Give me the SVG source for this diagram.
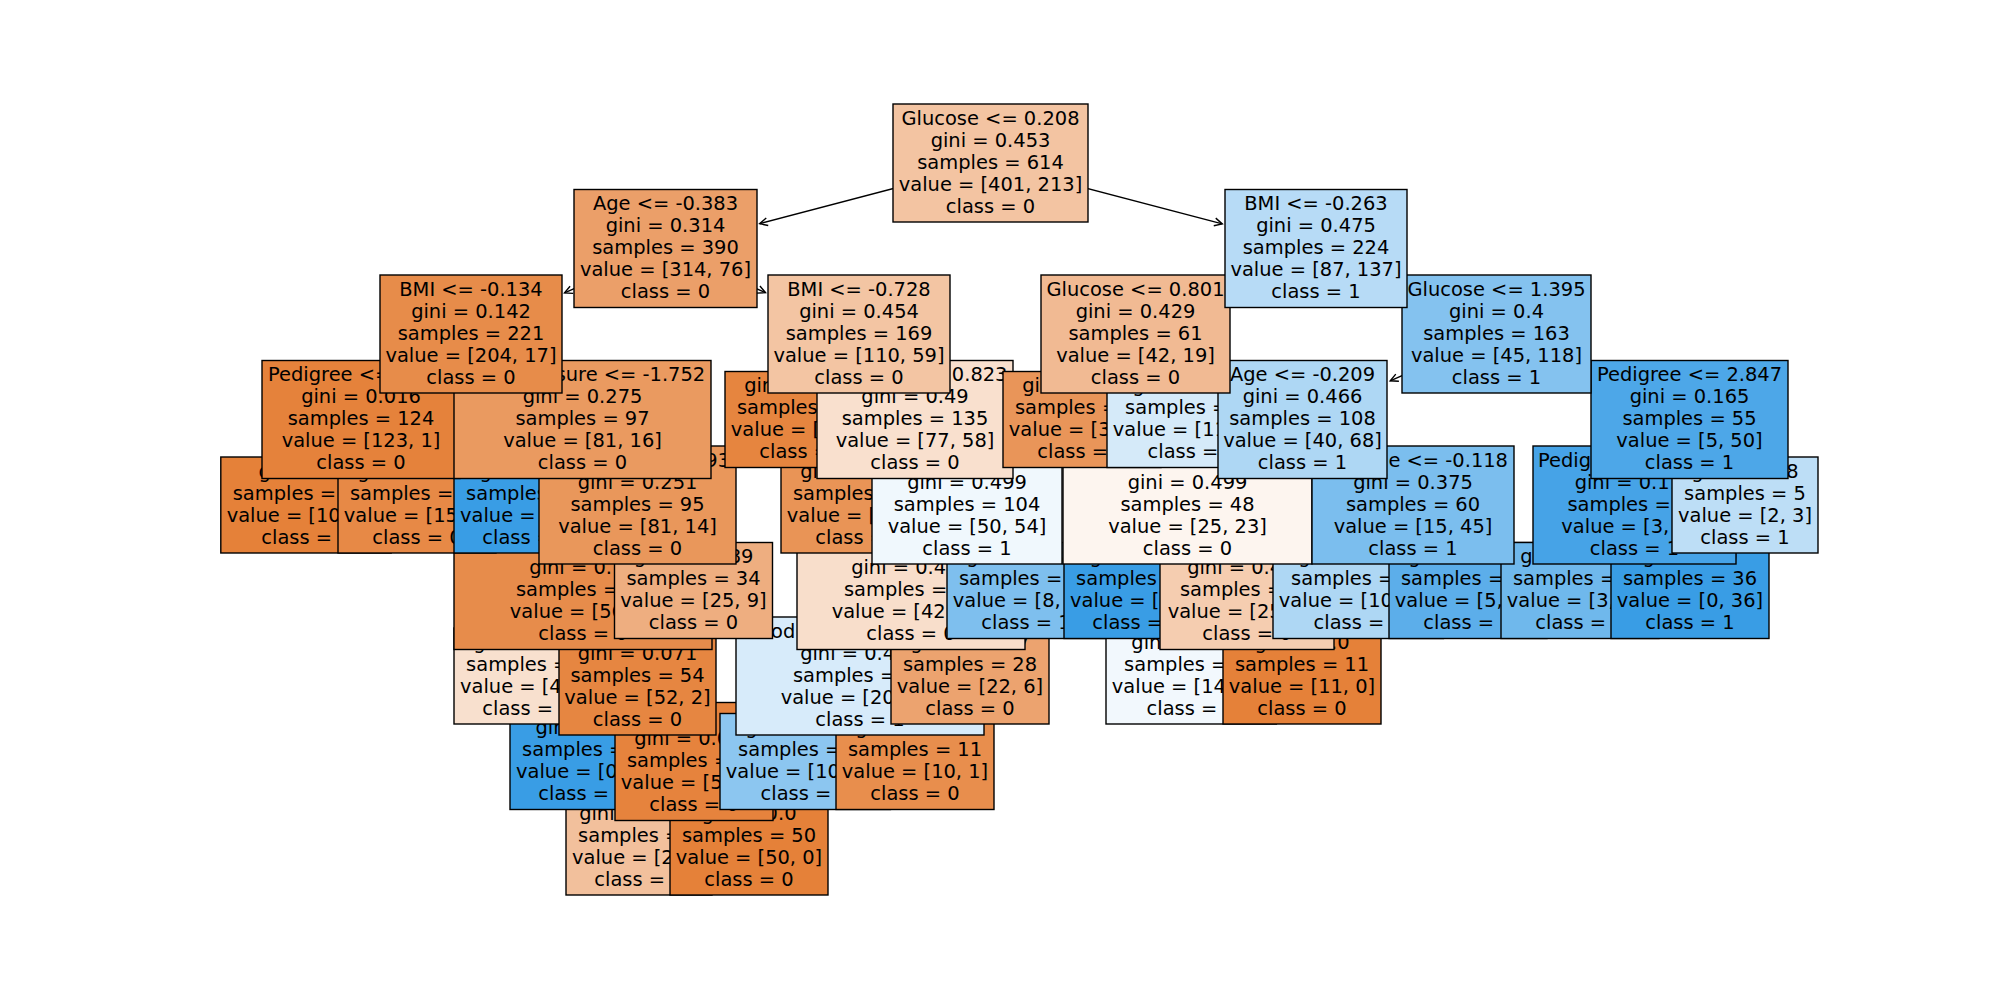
<svg xmlns="http://www.w3.org/2000/svg" width="2000" height="1000" viewBox="0 0 2000 1000">
<defs>
<style>
.node rect{stroke:#000;stroke-width:1.4}
.node text{font-family:"DejaVu Sans","Liberation Sans",sans-serif;font-size:19.44px;fill:#000;text-anchor:middle}
.node text .s{text-anchor:start}
.node text .e{text-anchor:end}
.edge line{stroke:#000;stroke-width:1.4;fill:none;marker-end:url(#head)}
</style>
<marker id="head" viewBox="-10 -6 12 12" markerWidth="12" markerHeight="12" refX="0" refY="0" orient="auto" markerUnits="userSpaceOnUse" overflow="visible">
<path d="M-7.8,-3.9 L0,0 L-7.8,3.9" fill="none" stroke="#000" stroke-width="1.4"/>
</marker>
</defs>
<rect width="2000" height="1000" fill="#fff"/>

<!-- connectors: parent centre to child box edge -->
<g id="edges" class="edge">
<line x1="990.5" y1="163" x2="759.7" y2="223.7"/>
<line x1="990.5" y1="163" x2="1222.3" y2="223.9"/>
<line x1="665.5" y1="248.5" x2="564.5" y2="292.9"/>
<line x1="665.5" y1="248.5" x2="765.5" y2="292.7"/>
<line x1="471" y1="334" x2="439.1" y2="358.8"/>
<line x1="471" y1="334" x2="503.4" y2="358.8"/>
<line x1="361" y1="419.5" x2="338.4" y2="454.7"/>
<line x1="361" y1="419.5" x2="384.1" y2="454.7"/>
<line x1="582.5" y1="419.5" x2="559.7" y2="454.7"/>
<line x1="582.5" y1="419.5" x2="598" y2="443.7"/>
<line x1="637.5" y1="505" x2="622.1" y2="529.2"/>
<line x1="637.5" y1="505" x2="660.6" y2="540.2"/>
<line x1="583" y1="590.5" x2="559.9" y2="625.7"/>
<line x1="583" y1="590.5" x2="598.4" y2="614.7"/>
<line x1="637.5" y1="676" x2="615.1" y2="711.2"/>
<line x1="637.5" y1="676" x2="653.5" y2="700.2"/>
<line x1="694" y1="761.5" x2="671.4" y2="796.7"/>
<line x1="694" y1="761.5" x2="716.6" y2="796.7"/>
<line x1="859" y1="334" x2="836.4" y2="369.2"/>
<line x1="859" y1="334" x2="874.9" y2="358.2"/>
<line x1="915" y1="419.5" x2="892.4" y2="454.7"/>
<line x1="915" y1="419.5" x2="929.7" y2="443.6"/>
<line x1="967" y1="505" x2="951.1" y2="529.2"/>
<line x1="967" y1="505" x2="991.3" y2="540.2"/>
<line x1="911" y1="590.5" x2="896.6" y2="614.6"/>
<line x1="911" y1="590.5" x2="935.3" y2="625.7"/>
<line x1="860" y1="676" x2="837.4" y2="711.2"/>
<line x1="860" y1="676" x2="882.6" y2="711.2"/>
<line x1="1316" y1="248.5" x2="1232.5" y2="288"/>
<line x1="1316" y1="248.5" x2="1399.5" y2="288"/>
<line x1="1135.5" y1="334" x2="1113.5" y2="369.1"/>
<line x1="1135.5" y1="334" x2="1158.8" y2="369.2"/>
<line x1="1496.5" y1="334" x2="1390.2" y2="380.8"/>
<line x1="1496.5" y1="334" x2="1588" y2="374.5"/>
<line x1="1302.5" y1="419.5" x2="1269.1" y2="444.3"/>
<line x1="1302.5" y1="419.5" x2="1334.6" y2="444.3"/>
<line x1="1187.5" y1="505" x2="1166.8" y2="540.1"/>
<line x1="1187.5" y1="505" x2="1204.3" y2="529.2"/>
<line x1="1247" y1="590.5" x2="1223.9" y2="625.7"/>
<line x1="1247" y1="590.5" x2="1269.6" y2="625.7"/>
<line x1="1413" y1="505" x2="1390.4" y2="540.2"/>
<line x1="1413" y1="505" x2="1435.6" y2="540.2"/>
<line x1="1689.5" y1="419.5" x2="1674" y2="443.7"/>
<line x1="1689.5" y1="419.5" x2="1712.3" y2="454.7"/>
<line x1="1634.5" y1="505" x2="1612.1" y2="540.2"/>
<line x1="1634.5" y1="505" x2="1657.3" y2="540.2"/>
</g>

<!-- depth 8 -->
<g id="n14" class="node"><rect x="566" y="799" width="146" height="96" fill="#f2c09c"/><text><tspan x="639" y="819.8">gini = 0.444</tspan><tspan x="639" y="841.8">samples = 3</tspan><tspan x="639" y="863.8">value = [2, 1]</tspan><tspan x="639" y="885.8">class = 0</tspan></text></g>
<g id="n15" class="node"><rect x="670" y="799" width="158" height="96" fill="#e58139"/><text><tspan x="749" y="819.8">gini = 0.0</tspan><tspan x="749" y="841.8">samples = 50</tspan><tspan x="749" y="863.8">value = [50, 0]</tspan><tspan x="749" y="885.8">class = 0</tspan></text></g>

<!-- depth 7 -->
<g id="n12" class="node"><rect x="510" y="713.5" width="146" height="96" fill="#399de5"/><text><tspan x="583" y="734.3">gini = 0.0</tspan><tspan x="583" y="756.3">samples = 1</tspan><tspan x="583" y="778.3">value = [0, 1]</tspan><tspan x="583" y="800.3">class = 1</tspan></text></g>
<g id="n13" class="node"><rect x="615" y="702.5" width="158" height="118" fill="#e6833d"/><text><tspan x="694" y="745.3">gini = 0.037</tspan><tspan x="694" y="767.3">samples = 53</tspan><tspan x="694" y="789.3">value = [52, 1]</tspan><tspan x="694" y="811.3">class = 0</tspan></text></g>
<g id="n24" class="node"><rect x="720" y="713.5" width="170.4" height="96" fill="#8cc6f0"/><text><tspan x="805.2" y="734.3">gini = 0.415</tspan><tspan x="805.2" y="756.3">samples = 34</tspan><tspan x="805.2" y="778.3">value = [10, 24]</tspan><tspan x="805.2" y="800.3">class = 1</tspan></text></g>
<g id="n25" class="node"><rect x="836" y="713.5" width="158" height="96" fill="#e88e4d"/><text><tspan x="915" y="734.3">gini = 0.165</tspan><tspan x="915" y="756.3">samples = 11</tspan><tspan x="915" y="778.3">value = [10, 1]</tspan><tspan x="915" y="800.3">class = 0</tspan></text></g>

<!-- depth 6 -->
<g id="n10" class="node"><rect x="454" y="628" width="146" height="96" fill="#f8e0ce"/><text><tspan x="527" y="648.8">gini = 0.49</tspan><tspan x="527" y="670.8">samples = 7</tspan><tspan x="527" y="692.8">value = [4, 3]</tspan><tspan x="527" y="714.8">class = 0</tspan></text></g>
<g id="n11" class="node"><rect x="559" y="617" width="157" height="118" fill="#e68641"/><text><tspan x="637.5" y="659.8">gini = 0.071</tspan><tspan x="637.5" y="681.8">samples = 54</tspan><tspan x="637.5" y="703.8">value = [52, 2]</tspan><tspan x="637.5" y="725.8">class = 0</tspan></text></g>
<g id="n23" class="node"><rect x="736" y="617" width="248" height="118" fill="#d7ebfa"/><text><tspan class="s" x="771" y="637.8">od</tspan><tspan x="860" y="659.8">gini = 0.494</tspan><tspan x="860" y="681.8">samples = 45</tspan><tspan x="860" y="703.8">value = [20, 25]</tspan><tspan x="860" y="725.8">class = 1</tspan></text></g>
<g id="n26" class="node"><rect x="891" y="628" width="158" height="96" fill="#eca36f"/><text><tspan x="970" y="648.8">gini = 0.337</tspan><tspan x="970" y="670.8">samples = 28</tspan><tspan x="970" y="692.8">value = [22, 6]</tspan><tspan x="970" y="714.8">class = 0</tspan></text></g>
<g id="n37" class="node"><rect x="1106" y="628" width="170.4" height="96" fill="#f2f8fd"/><text><tspan x="1191.2" y="648.8">gini = 0.499</tspan><tspan x="1191.2" y="670.8">samples = 29</tspan><tspan x="1191.2" y="692.8">value = [14, 15]</tspan><tspan x="1191.2" y="714.8">class = 1</tspan></text></g>
<g id="n38" class="node"><rect x="1223" y="628" width="158" height="96" fill="#e58139"/><text><tspan x="1302" y="648.8">gini = 0.0</tspan><tspan x="1302" y="670.8">samples = 11</tspan><tspan x="1302" y="692.8">value = [11, 0]</tspan><tspan x="1302" y="714.8">class = 0</tspan></text></g>

<!-- depth 5 -->
<g id="n9" class="node"><rect x="454" y="531.5" width="258" height="118" fill="#e78c4b"/><text><tspan x="583" y="574.3">gini = 0.15</tspan><tspan x="583" y="596.3">samples = 61</tspan><tspan x="583" y="618.3">value = [56, 5]</tspan><tspan x="583" y="640.3">class = 0</tspan></text></g>
<g id="n16" class="node"><rect x="614.5" y="542.5" width="158" height="96" fill="#eeae80"/><text><tspan x="693.5" y="563.3">gini = 0.389</tspan><tspan x="693.5" y="585.3">samples = 34</tspan><tspan x="693.5" y="607.3">value = [25, 9]</tspan><tspan x="693.5" y="629.3">class = 0</tspan></text></g>
<g id="n22" class="node"><rect x="797" y="531.5" width="228" height="118" fill="#f8decb"/><text><tspan x="911" y="574.3">gini = 0.489</tspan><tspan x="911" y="596.3">samples = 73</tspan><tspan x="911" y="618.3">value = [42, 31]</tspan><tspan x="911" y="640.3">class = 0</tspan></text></g>
<g id="n27" class="node"><rect x="947" y="542.5" width="158" height="96" fill="#7ebfee"/><text><tspan x="1026" y="563.3">gini = 0.383</tspan><tspan x="1026" y="585.3">samples = 31</tspan><tspan x="1026" y="607.3">value = [8, 23]</tspan><tspan x="1026" y="629.3">class = 1</tspan></text></g>
<g id="n35" class="node"><rect x="1064" y="542.5" width="146" height="96" fill="#399de5"/><text><tspan x="1137" y="563.3">gini = 0.0</tspan><tspan x="1137" y="585.3">samples = 8</tspan><tspan x="1137" y="607.3">value = [0, 8]</tspan><tspan x="1137" y="629.3">class = 1</tspan></text></g>
<g id="n36" class="node"><rect x="1160" y="531.5" width="174" height="118" fill="#f5cdb0"/><text><tspan x="1247" y="574.3">gini = 0.469</tspan><tspan x="1247" y="596.3">samples = 40</tspan><tspan x="1247" y="618.3">value = [25, 15]</tspan><tspan x="1247" y="640.3">class = 0</tspan></text></g>
<g id="n40" class="node"><rect x="1273" y="542.5" width="170.4" height="96" fill="#aed7f4"/><text><tspan x="1358.2" y="563.3">gini = 0.466</tspan><tspan x="1358.2" y="585.3">samples = 27</tspan><tspan x="1358.2" y="607.3">value = [10, 17]</tspan><tspan x="1358.2" y="629.3">class = 1</tspan></text></g>
<g id="n41" class="node"><rect x="1389" y="542.5" width="158" height="96" fill="#5caeea"/><text><tspan x="1468" y="563.3">gini = 0.257</tspan><tspan x="1468" y="585.3">samples = 33</tspan><tspan x="1468" y="607.3">value = [5, 28]</tspan><tspan x="1468" y="629.3">class = 1</tspan></text></g>
<g id="n44" class="node"><rect x="1501" y="542.5" width="158" height="96" fill="#6fb8ec"/><text><tspan x="1580" y="563.3">gini = 0.337</tspan><tspan x="1580" y="585.3">samples = 14</tspan><tspan x="1580" y="607.3">value = [3, 11]</tspan><tspan x="1580" y="629.3">class = 1</tspan></text></g>
<g id="n45" class="node"><rect x="1611" y="542.5" width="158" height="96" fill="#399de5"/><text><tspan x="1690" y="563.3">gini = 0.0</tspan><tspan x="1690" y="585.3">samples = 36</tspan><tspan x="1690" y="607.3">value = [0, 36]</tspan><tspan x="1690" y="629.3">class = 1</tspan></text></g>

<!-- depth 4 -->
<g id="n4" class="node"><rect x="220.8" y="457" width="170.4" height="96" fill="#e58139"/><text><tspan x="306" y="477.8">gini = 0.0</tspan><tspan x="306" y="499.8">samples = 108</tspan><tspan x="306" y="521.8">value = [108, 0]</tspan><tspan x="306" y="543.8">class = 0</tspan></text></g>
<g id="n5" class="node"><rect x="338" y="457" width="158" height="96" fill="#e78946"/><text><tspan x="417" y="477.8">gini = 0.117</tspan><tspan x="417" y="499.8">samples = 16</tspan><tspan x="417" y="521.8">value = [15, 1]</tspan><tspan x="417" y="543.8">class = 0</tspan></text></g>
<g id="n7" class="node"><rect x="454" y="457" width="146" height="96" fill="#399de5"/><text><tspan x="527" y="477.8">gini = 0.0</tspan><tspan x="527" y="499.8">samples = 2</tspan><tspan x="527" y="521.8">value = [0, 2]</tspan><tspan x="527" y="543.8">class = 1</tspan></text></g>
<g id="n8" class="node"><rect x="539" y="446" width="197" height="118" fill="#e9975b"/><text><tspan class="e" x="730" y="466.8">93</tspan><tspan x="637.5" y="488.8">gini = 0.251</tspan><tspan x="637.5" y="510.8">samples = 95</tspan><tspan x="637.5" y="532.8">value = [81, 14]</tspan><tspan x="637.5" y="554.8">class = 0</tspan></text></g>
<g id="n20" class="node"><rect x="781" y="457" width="158" height="96" fill="#e99456"/><text><tspan x="860" y="477.8">gini = 0.225</tspan><tspan x="860" y="499.8">samples = 31</tspan><tspan x="860" y="521.8">value = [27, 4]</tspan><tspan x="860" y="543.8">class = 0</tspan></text></g>
<g id="n21" class="node"><rect x="872" y="446" width="190" height="118" fill="#f0f8fd"/><text><tspan x="967" y="488.8">gini = 0.499</tspan><tspan x="967" y="510.8">samples = 104</tspan><tspan x="967" y="532.8">value = [50, 54]</tspan><tspan x="967" y="554.8">class = 1</tspan></text></g>
<g id="n34" class="node"><rect x="1063" y="446" width="249" height="118" fill="#fdf5ef"/><text><tspan x="1187.5" y="488.8">gini = 0.499</tspan><tspan x="1187.5" y="510.8">samples = 48</tspan><tspan x="1187.5" y="532.8">value = [25, 23]</tspan><tspan x="1187.5" y="554.8">class = 0</tspan></text></g>
<g id="n39" class="node"><rect x="1312" y="446" width="202" height="118" fill="#7bbeee"/><text><tspan class="e" x="1508" y="466.8">e &lt;= -0.118</tspan><tspan x="1413" y="488.8">gini = 0.375</tspan><tspan x="1413" y="510.8">samples = 60</tspan><tspan x="1413" y="532.8">value = [15, 45]</tspan><tspan x="1413" y="554.8">class = 1</tspan></text></g>
<g id="n43" class="node"><rect x="1533" y="446" width="203" height="118" fill="#46a3e7"/><text><tspan class="s" x="1538" y="466.8">Pedig</tspan><tspan x="1634.5" y="488.8">gini = 0.113</tspan><tspan x="1634.5" y="510.8">samples = 50</tspan><tspan x="1634.5" y="532.8">value = [3, 47]</tspan><tspan x="1634.5" y="554.8">class = 1</tspan></text></g>
<g id="n46" class="node"><rect x="1672" y="457" width="146" height="96" fill="#bddef6"/><text><tspan x="1745" y="477.8">gini = 0.48</tspan><tspan x="1745" y="499.8">samples = 5</tspan><tspan x="1745" y="521.8">value = [2, 3]</tspan><tspan x="1745" y="543.8">class = 1</tspan></text></g>

<!-- depth 3 -->
<g id="n3" class="node"><rect x="262" y="360.5" width="198" height="118" fill="#e5823b"/><text><tspan class="s" x="268" y="381.3">Pedigree &lt;=</tspan><tspan x="361" y="403.3">gini = 0.016</tspan><tspan x="361" y="425.3">samples = 124</tspan><tspan x="361" y="447.3">value = [123, 1]</tspan><tspan x="361" y="469.3">class = 0</tspan></text></g>
<g id="n6" class="node"><rect x="454" y="360.5" width="257" height="118" fill="#ea9a60"/><text><tspan x="582.5" y="381.3">BloodPressure &lt;= -1.752</tspan><tspan x="582.5" y="403.3">gini = 0.275</tspan><tspan x="582.5" y="425.3">samples = 97</tspan><tspan x="582.5" y="447.3">value = [81, 16]</tspan><tspan x="582.5" y="469.3">class = 0</tspan></text></g>
<g id="n18" class="node"><rect x="725" y="371.5" width="158" height="96" fill="#e6853f"/><text><tspan x="804" y="392.3">gini = 0.057</tspan><tspan x="804" y="414.3">samples = 34</tspan><tspan x="804" y="436.3">value = [33, 1]</tspan><tspan x="804" y="458.3">class = 0</tspan></text></g>
<g id="n19" class="node"><rect x="817" y="360.5" width="196" height="118" fill="#f9e0ce"/><text><tspan class="e" x="1007.5" y="381.3">0.823</tspan><tspan x="915" y="403.3">gini = 0.49</tspan><tspan x="915" y="425.3">samples = 135</tspan><tspan x="915" y="447.3">value = [77, 58]</tspan><tspan x="915" y="469.3">class = 0</tspan></text></g>
<g id="n30" class="node"><rect x="1003" y="371.5" width="158" height="96" fill="#e99559"/><text><tspan x="1082" y="392.3">gini = 0.239</tspan><tspan x="1082" y="414.3">samples = 36</tspan><tspan x="1082" y="436.3">value = [31, 5]</tspan><tspan x="1082" y="458.3">class = 0</tspan></text></g>
<g id="n31" class="node"><rect x="1107" y="371.5" width="170.4" height="96" fill="#d5eaf9"/><text><tspan x="1192.2" y="392.3">gini = 0.493</tspan><tspan x="1192.2" y="414.3">samples = 25</tspan><tspan x="1192.2" y="436.3">value = [11, 14]</tspan><tspan x="1192.2" y="458.3">class = 1</tspan></text></g>
<g id="n33" class="node"><rect x="1218" y="360.5" width="169" height="118" fill="#aed7f4"/><text><tspan x="1302.5" y="381.3">Age &lt;= -0.209</tspan><tspan x="1302.5" y="403.3">gini = 0.466</tspan><tspan x="1302.5" y="425.3">samples = 108</tspan><tspan x="1302.5" y="447.3">value = [40, 68]</tspan><tspan x="1302.5" y="469.3">class = 1</tspan></text></g>
<g id="n42" class="node"><rect x="1591" y="360.5" width="197" height="118" fill="#4da7e8"/><text><tspan x="1689.5" y="381.3">Pedigree &lt;= 2.847</tspan><tspan x="1689.5" y="403.3">gini = 0.165</tspan><tspan x="1689.5" y="425.3">samples = 55</tspan><tspan x="1689.5" y="447.3">value = [5, 50]</tspan><tspan x="1689.5" y="469.3">class = 1</tspan></text></g>

<!-- depth 2 -->
<g id="n2" class="node"><rect x="380" y="275" width="182" height="118" fill="#e78c4a"/><text><tspan x="471" y="295.8">BMI &lt;= -0.134</tspan><tspan x="471" y="317.8">gini = 0.142</tspan><tspan x="471" y="339.8">samples = 221</tspan><tspan x="471" y="361.8">value = [204, 17]</tspan><tspan x="471" y="383.8">class = 0</tspan></text></g>
<g id="n17" class="node"><rect x="768" y="275" width="182" height="118" fill="#f3c5a3"/><text><tspan x="859" y="295.8">BMI &lt;= -0.728</tspan><tspan x="859" y="317.8">gini = 0.454</tspan><tspan x="859" y="339.8">samples = 169</tspan><tspan x="859" y="361.8">value = [110, 59]</tspan><tspan x="859" y="383.8">class = 0</tspan></text></g>
<g id="n29" class="node"><rect x="1041" y="275" width="189" height="118" fill="#f1ba93"/><text><tspan x="1135.5" y="295.8">Glucose &lt;= 0.801</tspan><tspan x="1135.5" y="317.8">gini = 0.429</tspan><tspan x="1135.5" y="339.8">samples = 61</tspan><tspan x="1135.5" y="361.8">value = [42, 19]</tspan><tspan x="1135.5" y="383.8">class = 0</tspan></text></g>
<g id="n32" class="node"><rect x="1402" y="275" width="189" height="118" fill="#84c2ef"/><text><tspan x="1496.5" y="295.8">Glucose &lt;= 1.395</tspan><tspan x="1496.5" y="317.8">gini = 0.4</tspan><tspan x="1496.5" y="339.8">samples = 163</tspan><tspan x="1496.5" y="361.8">value = [45, 118]</tspan><tspan x="1496.5" y="383.8">class = 1</tspan></text></g>

<!-- depth 1 -->
<g id="n1" class="node"><rect x="574" y="189.5" width="183" height="118" fill="#eb9f69"/><text><tspan x="665.5" y="210.3">Age &lt;= -0.383</tspan><tspan x="665.5" y="232.3">gini = 0.314</tspan><tspan x="665.5" y="254.3">samples = 390</tspan><tspan x="665.5" y="276.3">value = [314, 76]</tspan><tspan x="665.5" y="298.3">class = 0</tspan></text></g>
<g id="n28" class="node"><rect x="1225" y="189.5" width="182" height="118" fill="#b7dbf6"/><text><tspan x="1316" y="210.3">BMI &lt;= -0.263</tspan><tspan x="1316" y="232.3">gini = 0.475</tspan><tspan x="1316" y="254.3">samples = 224</tspan><tspan x="1316" y="276.3">value = [87, 137]</tspan><tspan x="1316" y="298.3">class = 1</tspan></text></g>

<!-- root -->
<g id="n0" class="node"><rect x="893" y="104" width="195" height="118" fill="#f3c4a2"/><text><tspan x="990.5" y="124.8">Glucose &lt;= 0.208</tspan><tspan x="990.5" y="146.8">gini = 0.453</tspan><tspan x="990.5" y="168.8">samples = 614</tspan><tspan x="990.5" y="190.8">value = [401, 213]</tspan><tspan x="990.5" y="212.8">class = 0</tspan></text></g>
</svg>
